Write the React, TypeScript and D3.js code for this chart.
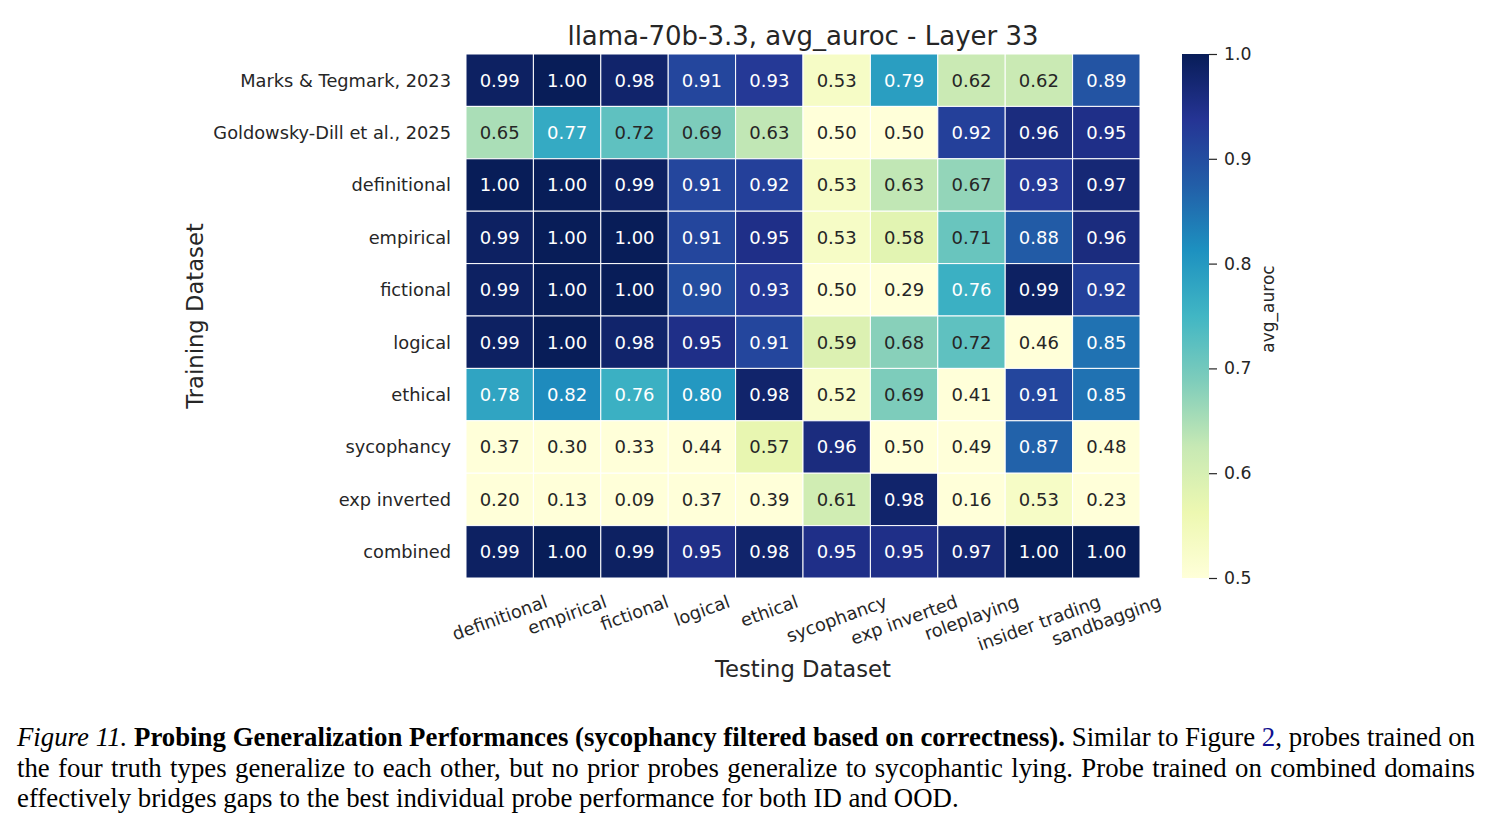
import React, { useEffect, useRef } from 'react';
import * as d3 from 'd3';

const trainLabels = [
  'Marks & Tegmark, 2023',
  'Goldowsky-Dill et al., 2025',
  'definitional',
  'empirical',
  'fictional',
  'logical',
  'ethical',
  'sycophancy',
  'exp inverted',
  'combined',
];

const testLabels = [
  'definitional',
  'empirical',
  'fictional',
  'logical',
  'ethical',
  'sycophancy',
  'exp inverted',
  'roleplaying',
  'insider trading',
  'sandbagging',
];

// rows = training dataset, columns = testing dataset
const auroc = [
  [0.99, 1.0, 0.98, 0.91, 0.93, 0.53, 0.79, 0.62, 0.62, 0.89],
  [0.65, 0.77, 0.72, 0.69, 0.63, 0.5, 0.5, 0.92, 0.96, 0.95],
  [1.0, 1.0, 0.99, 0.91, 0.92, 0.53, 0.63, 0.67, 0.93, 0.97],
  [0.99, 1.0, 1.0, 0.91, 0.95, 0.53, 0.58, 0.71, 0.88, 0.96],
  [0.99, 1.0, 1.0, 0.9, 0.93, 0.5, 0.29, 0.76, 0.99, 0.92],
  [0.99, 1.0, 0.98, 0.95, 0.91, 0.59, 0.68, 0.72, 0.46, 0.85],
  [0.78, 0.82, 0.76, 0.8, 0.98, 0.52, 0.69, 0.41, 0.91, 0.85],
  [0.37, 0.3, 0.33, 0.44, 0.57, 0.96, 0.5, 0.49, 0.87, 0.48],
  [0.2, 0.13, 0.09, 0.37, 0.39, 0.61, 0.98, 0.16, 0.53, 0.23],
  [0.99, 1.0, 0.99, 0.95, 0.98, 0.95, 0.95, 0.97, 1.0, 1.0],
];

const colorbarTicks = [0.5, 0.6, 0.7, 0.8, 0.9, 1.0];

const ylGnBu = ['#ffffd9', '#edf8b1', '#c7e9b4', '#7fcdbb', '#41b6c4', '#1d91c0', '#225ea8', '#253494', '#081d58'];

const captionLines = [
  [
    { text: 'Figure 11. ', style: 'italic' },
    { text: 'Probing Generalization Performances (sycophancy filtered based on correctness).', style: 'bold' },
    { text: ' Similar to Figure ', style: 'normal' },
    { text: '2', style: 'link' },
    { text: ', probes trained on', style: 'normal' },
  ],
  [{ text: 'the four truth types generalize to each other, but no prior probes generalize to sycophantic lying. Probe trained on combined domains', style: 'normal' }],
  [{ text: 'effectively bridges gaps to the best individual probe performance for both ID and OOD.', style: 'normal' }],
];

const INK = '#262626';
const SANS = '"DejaVu Sans", sans-serif';

// seaborn picks annotation colour from the cell's relative luminance
const luminance = (c: string) => {
  const rgb = d3.rgb(c);
  const lin = [rgb.r, rgb.g, rgb.b].map(v => {
    const s = v / 255;
    return s <= 0.03928 ? s / 12.92 : Math.pow((s + 0.055) / 1.055, 2.4);
  });
  return 0.2126 * lin[0] + 0.7152 * lin[1] + 0.0722 * lin[2];
};

const App: React.FC = () => {
  const svgRef = useRef<SVGSVGElement>(null);

  useEffect(() => {
    if (!svgRef.current) return;
    document.body.style.margin = '0';

    const svg = d3.select(svgRef.current);
    svg.selectAll('*').remove();

    const left = 466, right = 1140, top = 54, bottom = 578;

    const x = d3.scaleBand<string>().domain(testLabels).range([left, right]);
    const y = d3.scaleBand<string>().domain(trainLabels).range([top, bottom]);
    const color = d3.scaleLinear<string>()
      .domain(ylGnBu.map((_, i) => 0.5 + (i * 0.5) / (ylGnBu.length - 1)))
      .range(ylGnBu)
      .interpolate(d3.interpolateRgb)
      .clamp(true);

    // Title
    svg.append('text')
      .attr('x', (left + right) / 2)
      .attr('y', 45)
      .attr('text-anchor', 'middle')
      .style('font-family', SANS)
      .style('font-size', '26px')
      .style('fill', INK)
      .text('llama-70b-3.3, avg_auroc - Layer 33');

    // Cells
    const cells = svg.append('g')
      .selectAll('g')
      .data(auroc.flatMap((row, r) => row.map((v, c) => ({ r, c, v }))))
      .enter()
      .append('g');

    cells.append('rect')
      .attr('x', d => x(testLabels[d.c])!)
      .attr('y', d => y(trainLabels[d.r])!)
      .attr('width', x.bandwidth())
      .attr('height', y.bandwidth())
      .attr('fill', d => color(d.v))
      .attr('stroke', '#ffffff')
      .attr('stroke-width', 1);

    cells.append('text')
      .attr('x', d => x(testLabels[d.c])! + x.bandwidth() / 2)
      .attr('y', d => y(trainLabels[d.r])! + y.bandwidth() / 2)
      .attr('dy', '0.36em')
      .attr('text-anchor', 'middle')
      .style('font-family', SANS)
      .style('font-size', '18px')
      .style('fill', d => (luminance(color(d.v)) > 0.408 ? INK : '#ffffff'))
      .text(d => d.v.toFixed(2));

    // Y tick labels
    svg.append('g')
      .selectAll('text')
      .data(trainLabels)
      .enter()
      .append('text')
      .attr('x', left - 15)
      .attr('y', d => y(d)! + y.bandwidth() / 2)
      .attr('dy', '0.36em')
      .attr('text-anchor', 'end')
      .style('font-family', SANS)
      .style('font-size', '17.8px')
      .style('fill', INK)
      .text(d => d);

    // X tick labels, rotated 20deg; rotated box is centred on the tick with its top at a fixed pad
    const angle = 20;
    const rad = (angle * Math.PI) / 180;
    const xFont = 17.8;
    const boxH = 1.164 * xFont;
    const xt = svg.append('g')
      .selectAll('text')
      .data(testLabels)
      .enter()
      .append('text')
      .attr('text-anchor', 'middle')
      .attr('dy', '0.346em')
      .style('font-family', SANS)
      .style('font-size', `${xFont}px`)
      .style('fill', INK)
      .text(d => d);
    xt.each(function (d) {
      const w = (this as SVGTextElement).getComputedTextLength();
      const H = w * Math.sin(rad) + boxH * Math.cos(rad);
      d3.select(this).attr('transform',
        `translate(${x(d)! + x.bandwidth() / 2},${bottom + 13 + H / 2}) rotate(${-angle})`);
    });

    // Axis titles
    svg.append('text')
      .attr('x', (left + right) / 2)
      .attr('y', 677)
      .attr('text-anchor', 'middle')
      .style('font-family', SANS)
      .style('font-size', '22.7px')
      .style('fill', INK)
      .text('Testing Dataset');

    svg.append('text')
      .attr('transform', `translate(203,${(top + bottom) / 2}) rotate(-90)`)
      .attr('text-anchor', 'middle')
      .style('font-family', SANS)
      .style('font-size', '22.7px')
      .style('fill', INK)
      .text('Training Dataset');

    // Colorbar
    const cbX = 1182, cbW = 27;
    const cbScale = d3.scaleLinear().domain([0.5, 1]).range([bottom, top]);
    const grad = svg.append('defs')
      .append('linearGradient')
      .attr('id', 'cbar-grad')
      .attr('x1', 0).attr('y1', 1).attr('x2', 0).attr('y2', 0);
    ylGnBu.forEach((c, i) => {
      grad.append('stop')
        .attr('offset', `${(i / (ylGnBu.length - 1)) * 100}%`)
        .attr('stop-color', c);
    });
    svg.append('rect')
      .attr('x', cbX)
      .attr('y', top)
      .attr('width', cbW)
      .attr('height', bottom - top)
      .attr('fill', 'url(#cbar-grad)');

    const cbAxis = d3.axisRight(cbScale)
      .tickValues(colorbarTicks)
      .tickFormat(d3.format('.1f'))
      .tickSize(8)
      .tickPadding(7);
    const cbG = svg.append('g')
      .attr('transform', `translate(${cbX + cbW},0)`)
      .call(cbAxis);
    cbG.select('.domain').remove();
    cbG.selectAll('line').attr('stroke', INK).attr('stroke-width', 1.2);
    cbG.selectAll('text')
      .style('font-family', SANS)
      .style('font-size', '17.3px')
      .style('fill', INK);

    svg.append('text')
      .attr('transform', `translate(1274,309) rotate(-90)`)
      .attr('text-anchor', 'middle')
      .style('font-family', SANS)
      .style('font-size', '17px')
      .style('fill', INK)
      .text('avg_auroc');

    // Caption, first two lines justified to the column width
    const capLeft = 17, capRight = 1475;
    captionLines.forEach((parts, i) => {
      const t = svg.append('text')
        .attr('x', capLeft)
        .attr('y', 746 + i * 30.5)
        .style('font-family', '"Liberation Serif", "Times New Roman", serif')
        .style('font-size', '26.8px')
        .style('fill', '#000000');
      parts.forEach(p => {
        t.append('tspan')
          .style('font-style', p.style === 'italic' ? 'italic' : 'normal')
          .style('font-weight', p.style === 'bold' ? 'bold' : 'normal')
          .style('fill', p.style === 'link' ? '#10108f' : '#000000')
          .text(p.text);
      });
      if (i < captionLines.length - 1) {
        const node = t.node() as SVGTextElement;
        const len = node.getComputedTextLength();
        const spaces = parts.map(p => p.text).join('').split(' ').length - 1;
        t.style('word-spacing', `${(capRight - capLeft - len) / spaces}px`);
      }
    });
  }, []);

  return <svg ref={svgRef} width={1491} height={829} style={{ display: 'block', background: '#ffffff' }} />;
};

export default App;
